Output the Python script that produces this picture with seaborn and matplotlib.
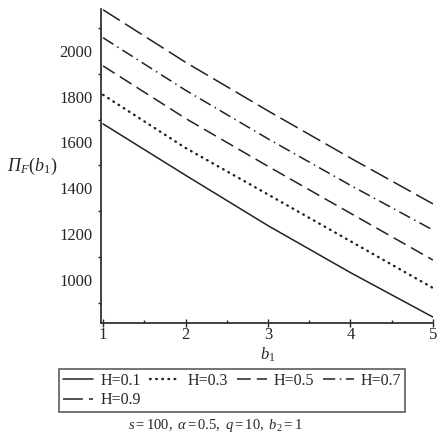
import numpy as np
import pandas as pd
import matplotlib
matplotlib.use("Agg")
import matplotlib.pyplot as plt
import seaborn as sns
from matplotlib.ticker import MultipleLocator

b1 = [1, 2, 3, 4, 5]
H_labels = ["H=0.1", "H=0.3", "H=0.5", "H=0.7", "H=0.9"]
pi_h01 = [1681, 1457, 1237, 1032, 838]
pi_h03 = [1808, 1576, 1373, 1169, 965]
pi_h05 = [1934, 1705, 1496, 1291, 1087]
pi_h07 = [2057, 1828, 1616, 1413, 1218]
pi_h09 = [2179, 1950, 1738, 1532, 1332]
x_ticks = [1, 2, 3, 4, 5]
y_ticks = [1000, 1200, 1400, 1600, 1800, 2000]

series = [pi_h01, pi_h03, pi_h05, pi_h07, pi_h09]
df = pd.DataFrame({
    "b1": np.tile(b1, len(H_labels)),
    "Pi": np.concatenate(series),
    "H": np.repeat(H_labels, len(b1)),
})

sns.set_style("white")
plt.rcParams["font.family"] = ["Liberation Serif", "DejaVu Serif"]
plt.rcParams["mathtext.fontset"] = "custom"
plt.rcParams["mathtext.rm"] = "Liberation Serif"
plt.rcParams["mathtext.it"] = "Liberation Serif:italic"
plt.rcParams["mathtext.bf"] = "Liberation Serif:bold"
plt.rcParams["mathtext.sf"] = "Liberation Serif:italic"

fig = plt.figure(figsize=(4.44, 4.44), dpi=100)
ax = fig.add_axes([0.2275, 0.2725, 0.7475, 0.7075])

dashes = {
    "H=0.1": "",
    "H=0.3": (0.5, 3.6),
    "H=0.5": (9, 4),
    "H=0.7": (8, 3, 1, 3),
    "H=0.9": (13, 4),
}
palette = {h: "#222222" for h in H_labels}
sns.lineplot(data=df, x="b1", y="Pi", hue="H", style="H", dashes=dashes,
             palette=palette, linewidth=1.1, ax=ax, legend=False)
dot_line = ax.lines[1]
dot_line.set_linewidth(1.7)
dot_line.set_dashes((0.3, 2.3))
dot_line.set_dash_capstyle("round")

ax.set_xlim(0.975, 5.0)
ax.set_ylim(812, 2183)
ax.set_xticks(x_ticks)
ax.set_yticks(y_ticks)
ax.xaxis.set_minor_locator(MultipleLocator(0.5))
ax.yaxis.set_minor_locator(MultipleLocator(100))
for s in ["top", "right"]:
    ax.spines[s].set_visible(False)
for s in ["left", "bottom"]:
    ax.spines[s].set_linewidth(1.3)
    ax.spines[s].set_color("#333333")
ax.tick_params(axis="y", which="major", direction="out", length=5, width=1, labelsize=12, pad=1)
ax.tick_params(axis="y", which="minor", direction="out", length=2.5, width=1, left=True)
ax.tick_params(axis="x", which="major", direction="inout", length=6, width=1, labelsize=12, pad=0, bottom=True)
ax.tick_params(axis="x", which="minor", direction="in", length=2, width=1, bottom=True)
ax.set_xlabel("")
ax.set_ylabel("")

fig.text(0.072, 1 - 166/444, r"$\mathsf{\Pi}_F(b_1)$", fontsize=13, ha="center", va="center")
fig.text(0.603, 1 - 355/444, r"$b_1$", fontsize=12, ha="center", va="center")

handle_map = {}
for i, h in enumerate(H_labels):
    ln = plt.Line2D([], [], color="#222222", linewidth=1.1)
    if dashes[h]:
        ln.set_dashes(dashes[h])
    if i == 1:
        ln.set_linewidth(1.7)
        ln.set_dashes((0.3, 2.3))
        ln.set_dash_capstyle("round")
    handle_map[h] = ln
order = ["H=0.1", "H=0.9", "H=0.3", "H=0.5", "H=0.7"]
leg = fig.legend([handle_map[h] for h in order], order, ncol=4, loc="upper left",
                 bbox_to_anchor=(59/444, 1 - 369/444),
                 fontsize=11.5, frameon=True, fancybox=False,
                 handlelength=1.9, handletextpad=0.45, columnspacing=0.55,
                 borderpad=0.25, labelspacing=0.2, borderaxespad=0)
leg.get_frame().set_edgecolor("#333333")
leg.get_frame().set_linewidth(1.2)

fig.text(0.484, 1 - 425/444, r"$s = 100,\ \alpha = 0.5,\ q = 10,\ b_2 = 1$",
         fontsize=10.5, ha="center", va="center")

fig.savefig("out.png", dpi=100)
